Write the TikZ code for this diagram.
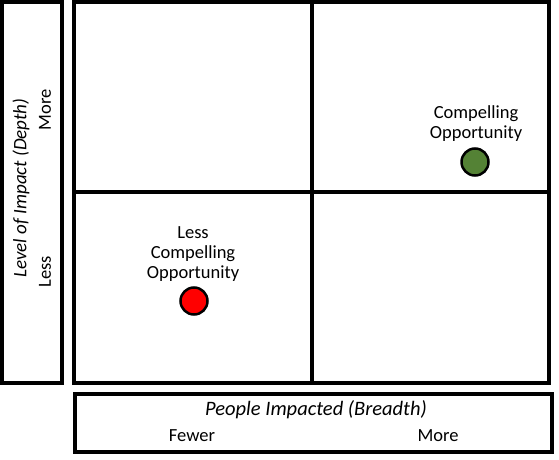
\documentclass[tikz,border=0pt]{standalone}
\usepackage{fontspec}
\setmainfont{Carlito}
\begin{document}
\begin{tikzpicture}[x=1pt,y=-1pt,
  frame/.style={draw=black,line width=3.5pt},
  lbl/.style={font=\fontsize{18.5}{20}\selectfont,align=center,inner sep=0pt},
  dot/.style={circle,draw=black,line width=2.5pt,minimum size=27pt,inner sep=0pt}]
\useasboundingbox (0,0) rectangle (559,460);
% left axis box
\draw[frame] (2,2) rectangle (62,383);
% grid
\draw[frame] (74,2) rectangle (549,383);
\draw[frame] (312,2) -- (312,383);
\draw[frame] (74,192) -- (549,192);
% bottom axis box
\draw[frame] (75,394) rectangle (552,452);
% left labels
\node[lbl,rotate=90,font=\fontsize{19}{20}\selectfont] (depth) at (21,188) {\itshape Level of Impact (Depth)};
\node[lbl,rotate=90] (more) at (45,110) {More};
\node[lbl,rotate=90] (less) at (45,272) {Less};
% bottom labels
\node[lbl,font=\fontsize{20.5}{22}\selectfont] (breadth) at (316,410) {\itshape People Impacted (Breadth)};
\node[lbl] (fewer) at (192,436) {Fewer};
\node[lbl] (moreb) at (438,436) {More};
% points
\node[lbl] (clbl) at (476,124) {Compelling\\Opportunity};
\node[dot,fill={rgb,255:red,84;green,130;blue,53}] (green) at (475,162) {};
\node[lbl] (llbl) at (193,254) {Less\\Compelling\\Opportunity};
\node[dot,fill=red] (red) at (194,301) {};
\end{tikzpicture}
\end{document}
